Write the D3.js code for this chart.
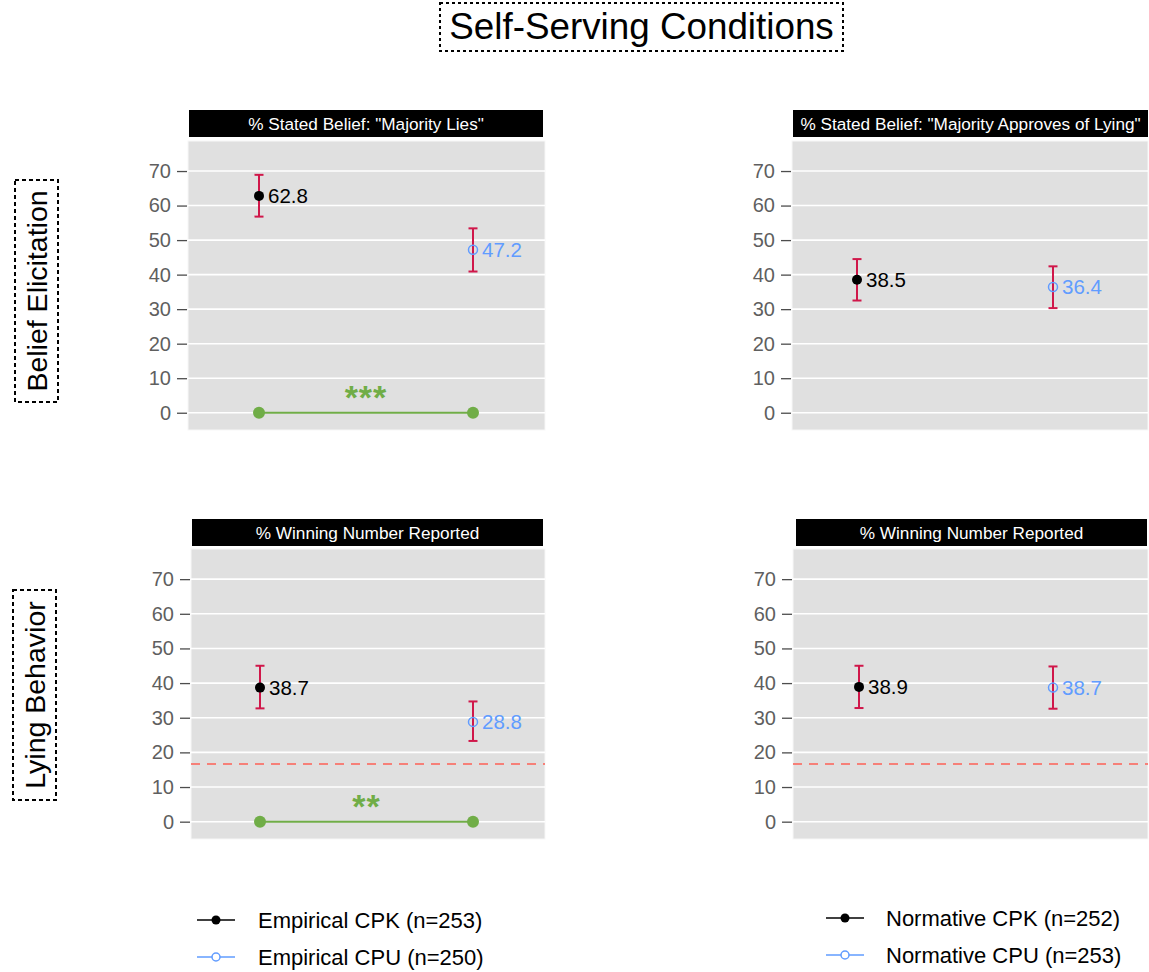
<!DOCTYPE html>
<html>
<head>
<meta charset="utf-8">
<script src="https://cdn.jsdelivr.net/npm/d3@7"></script>
<style>
  body { margin: 0; background: #fff; }
  svg { display: block; font-family: "Liberation Sans", Arial, sans-serif; }
</style>
</head>
<body>
<svg id="chart"></svg>
<script>
// Données (un élément par panneau : HG, HD, BG, BD)
const stripTitles = [
  '% Stated Belief: "Majority Lies"',
  '% Stated Belief: "Majority Approves of Lying"',
  "% Winning Number Reported",
  "% Winning Number Reported"
];
const groups = ["CPK", "CPU"];
const cpkMean = [62.8, 38.5, 38.7, 38.9];
const cpkLow  = [56.8, 32.5, 32.7, 32.8];
const cpkHigh = [68.9, 44.5, 45.0, 45.0];
const cpuMean = [47.2, 36.4, 28.8, 38.7];
const cpuLow  = [40.9, 30.3, 23.3, 32.6];
const cpuHigh = [53.4, 42.4, 34.7, 44.8];
const sigStars = ["***", "", "**", ""];
const chanceLine = [null, null, 100 / 6, 100 / 6];
const yTicks = [0, 10, 20, 30, 40, 50, 60, 70];
const rowLabels = ["Belief Elicitation", "Lying Behavior"];
const legendLabels = [
  ["Empirical CPK (n=253)", "Empirical CPU (n=250)"],
  ["Normative CPK (n=252)", "Normative CPU (n=253)"]
];

const width = 1149, height = 972;
const cBlue = "#619CFF", cErr = "#D0174A", cGreen = "#70AD47", cRed = "#F8766D";

const svg = d3.select("#chart").attr("width", width).attr("height", height);

// Géométrie des panneaux
const layout = [
  { px: [188, 545], py: [141, 430], sx: [189, 543], sy: [110, 137], pts: [259, 473] },
  { px: [792, 1148], py: [141, 430], sx: [793, 1148], sy: [110, 137], pts: [857, 1053] },
  { px: [191, 545], py: [549, 839], sx: [192, 543], sy: [519, 546], pts: [260, 473] },
  { px: [793, 1148], py: [549, 839], sx: [796, 1147], sy: [519, 546], pts: [859, 1053] }
];

// Titre
svg.append("rect")
  .attr("x", 440).attr("y", 3).attr("width", 403).attr("height", 48)
  .attr("fill", "none").attr("stroke", "#000").attr("stroke-width", 2)
  .attr("stroke-dasharray", "3,3");
svg.append("text")
  .attr("x", 641.5).attr("y", 39)
  .attr("text-anchor", "middle").attr("font-size", 36.8)
  .text("Self-Serving Conditions");

// Étiquettes de lignes
const rowBoxes = [{ x: 15, y: 180, w: 43, h: 222 }, { x: 13, y: 590, w: 43, h: 210 }];
rowLabels.forEach((lab, i) => {
  const b = rowBoxes[i];
  svg.append("rect")
    .attr("x", b.x).attr("y", b.y).attr("width", b.w).attr("height", b.h)
    .attr("fill", "none").attr("stroke", "#000").attr("stroke-width", 2)
    .attr("stroke-dasharray", "4,3");
  svg.append("text")
    .attr("transform", `translate(${b.x + b.w / 2 + 10},${b.y + b.h / 2}) rotate(-90)`)
    .attr("text-anchor", "middle").attr("font-size", 28.5)
    .text(lab);
});

// Panneaux
layout.forEach((L, i) => {
  const g = svg.append("g");
  const y = d3.scaleLinear().domain([-5, 78.7]).range([L.py[1], L.py[0]]);
  const x = d3.scaleOrdinal().domain(groups).range(L.pts);

  g.append("rect")
    .attr("x", L.px[0]).attr("y", L.py[0])
    .attr("width", L.px[1] - L.px[0]).attr("height", L.py[1] - L.py[0])
    .attr("fill", "#E0E0E0").attr("stroke", "#f7f7f7").attr("stroke-width", 1);

  // grille
  g.append("g").selectAll("line").data(yTicks).enter().append("line")
    .attr("x1", L.px[0]).attr("x2", L.px[1])
    .attr("y1", d => y(d)).attr("y2", d => y(d))
    .attr("stroke", "#fff").attr("stroke-width", 1.6);

  // axe
  const axis = g.append("g")
    .attr("transform", `translate(${L.px[0] - 1},0)`)
    .call(d3.axisLeft(y).tickValues(yTicks).tickSize(10).tickPadding(6));
  axis.select(".domain").remove();
  axis.selectAll(".tick line").attr("stroke", "#4d4d4d").attr("stroke-width", 1.3);
  axis.selectAll(".tick text")
    .attr("fill", "#5f5f5f").attr("font-size", 20)
    .attr("font-family", '"Liberation Sans", Arial, sans-serif');

  // bandeau
  g.append("rect")
    .attr("x", L.sx[0]).attr("y", L.sy[0])
    .attr("width", L.sx[1] - L.sx[0]).attr("height", L.sy[1] - L.sy[0])
    .attr("fill", "#000");
  g.append("text")
    .attr("x", (L.sx[0] + L.sx[1]) / 2).attr("y", (L.sy[0] + L.sy[1]) / 2 + 6)
    .attr("text-anchor", "middle").attr("fill", "#fff").attr("font-size", 17.2)
    .text(stripTitles[i]);

  // ligne du hasard (1/6)
  if (chanceLine[i] !== null) {
    g.append("line")
      .attr("x1", L.px[0]).attr("x2", L.px[1])
      .attr("y1", y(chanceLine[i])).attr("y2", y(chanceLine[i]))
      .attr("stroke", cRed).attr("stroke-opacity", 0.9)
      .attr("stroke-width", 2).attr("stroke-dasharray", "9,7");
  }

  // significativité
  if (sigStars[i]) {
    g.append("line")
      .attr("x1", x("CPK")).attr("x2", x("CPU"))
      .attr("y1", y(0)).attr("y2", y(0))
      .attr("stroke", cGreen).attr("stroke-width", 2);
    g.selectAll(".sigdot").data(groups).enter().append("circle")
      .attr("cx", d => x(d)).attr("cy", y(0)).attr("r", 6)
      .attr("fill", cGreen);
    g.append("text")
      .attr("x", (x("CPK") + x("CPU")) / 2).attr("y", y(0) - 4)
      .attr("text-anchor", "middle").attr("fill", cGreen)
      .attr("font-size", 34).attr("font-weight", "bold")
      .attr("letter-spacing", 1)
      .text(sigStars[i]);
  }

  const pts = [
    { grp: "CPK", m: cpkMean[i], lo: cpkLow[i], hi: cpkHigh[i], col: "#000" },
    { grp: "CPU", m: cpuMean[i], lo: cpuLow[i], hi: cpuHigh[i], col: cBlue }
  ];

  // barres d'erreur
  const eb = g.append("g").selectAll("g").data(pts).enter().append("g")
    .attr("stroke", cErr).attr("stroke-width", 2);
  eb.append("line")
    .attr("x1", d => x(d.grp)).attr("x2", d => x(d.grp))
    .attr("y1", d => y(d.lo)).attr("y2", d => y(d.hi));
  eb.append("line")
    .attr("x1", d => x(d.grp) - 4.5).attr("x2", d => x(d.grp) + 4.5)
    .attr("y1", d => y(d.lo)).attr("y2", d => y(d.lo));
  eb.append("line")
    .attr("x1", d => x(d.grp) - 4.5).attr("x2", d => x(d.grp) + 4.5)
    .attr("y1", d => y(d.hi)).attr("y2", d => y(d.hi));

  // points
  g.append("circle")
    .attr("cx", x("CPK")).attr("cy", y(cpkMean[i])).attr("r", 5)
    .attr("fill", "#000");
  g.append("circle")
    .attr("cx", x("CPU")).attr("cy", y(cpuMean[i])).attr("r", 4.5)
    .attr("fill", "none").attr("stroke", cBlue).attr("stroke-width", 1.5);

  // valeurs
  g.selectAll(".val").data(pts).enter().append("text")
    .attr("x", d => x(d.grp) + 9).attr("y", d => y(d.m) + 7)
    .attr("fill", d => d.col).attr("font-size", 20.5)
    .text(d => d.m.toFixed(1));
});

// Légendes
const legendPos = [{ x: 197, y: 920, tx: 258 }, { x: 826, y: 918, tx: 886 }];
legendLabels.forEach((labs, k) => {
  const P = legendPos[k];
  labs.forEach((lab, j) => {
    const yy = P.y + j * 37;
    const col = j === 0 ? "#000" : cBlue;
    svg.append("line")
      .attr("x1", P.x).attr("x2", P.x + 38).attr("y1", yy).attr("y2", yy)
      .attr("stroke", col).attr("stroke-width", 1.5);
    if (j === 0) {
      svg.append("circle").attr("cx", P.x + 19).attr("cy", yy).attr("r", 4.5).attr("fill", col);
    } else {
      svg.append("circle").attr("cx", P.x + 19).attr("cy", yy).attr("r", 4)
        .attr("fill", "#fff").attr("stroke", col).attr("stroke-width", 1.5);
    }
    svg.append("text")
      .attr("x", P.tx).attr("y", yy + 7.5).attr("font-size", 22)
      .text(lab);
  });
});
</script>
</body>
</html>
